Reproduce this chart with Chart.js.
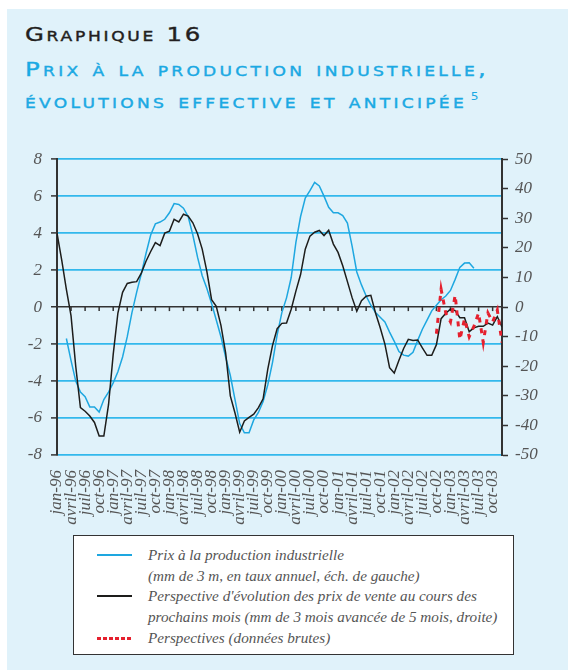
<!DOCTYPE html>
<html lang="fr">
<head>
<meta charset="utf-8">
<script src="https://cdn.jsdelivr.net/npm/chart.js@4.4.1/dist/chart.umd.min.js"></script>
<style>
  html, body { margin: 0; padding: 0; background: #fff; }
  body { width: 568px; height: 670px; position: relative; overflow: hidden; }
  .panel { position: absolute; left: 7px; top: 9px; right: 0; bottom: 0; background: #e0f2fa; }
  .ttl { position: absolute; left: 25px; white-space: nowrap; font-family: 'DejaVu Sans', sans-serif;
         font-variant: small-caps; font-size: 20px; line-height: 20px; -webkit-text-stroke: 0.4px currentColor;
         transform-origin: 0 50%; }
  .ttl.main { top: 24px; color: #231f20; }
  .ttl.sub { color: #1ba9e3; }
  .ttl sup { font-size: 10px; vertical-align: 8px; font-variant: normal; margin-left: 3px; -webkit-text-stroke: 0; }
  #wrap { position: absolute; left: 0; top: 140px; width: 568px; height: 395px; }
  .legend { position: absolute; left: 73px; top: 535px; width: 439px; height: 118px; background: #fff;
            border: 1.5px solid #333; font-family: 'Liberation Serif', serif; font-style: italic;
            font-size: 15.2px; color: #555; }
  .legend .row { position: absolute; left: 74px; white-space: nowrap; line-height: 20px; }
  .legend .swatch { position: absolute; left: 23px; width: 35px; }
</style>
</head>
<body>
<div class="panel"></div>
<div class="ttl main" data-w="178">Graphique 16</div>
<div class="ttl sub" style="top:59px" data-w="464">Prix à la production industrielle,</div>
<div class="ttl sub" style="top:87px" data-w="442"><span>évolutions effective et anticipée</span><sup>5</sup></div>

<div id="wrap"><canvas id="chart" width="568" height="395"></canvas></div>

<div class="legend" id="legend"></div>

<script>
// tick labels of the bottom axis (one every quarter)
const quarterLabels = [
  'jan-96', 'avril-96', 'juil-96', 'oct-96',
  'jan-97', 'avril-97', 'juil-97', 'oct-97',
  'jan-98', 'avril-98', 'juil-98', 'oct-98',
  'jan-99', 'avril-99', 'juil-99', 'oct-99',
  'jan-00', 'avril-00', 'juil-00', 'oct-00',
  'jan-01', 'avril-01', 'juil-01', 'oct-01',
  'jan-02', 'avril-02', 'juil-02', 'oct-02',
  'jan-03', 'avril-03', 'juil-03', 'oct-03'
];

// monthly values, jan-96 .. dec-03
// prix à la production industrielle (échelle de gauche)
const prixProduction = [
  null, null, -1.7, -2.9, -4.0, -4.6, -4.85, -5.4, -5.4, -5.68, -5.0, -4.6,
  -4.1, -3.5, -2.7, -1.6, -0.3, 0.8, 1.8, 2.9, 3.9, 4.5, 4.6, 4.75,
  5.1, 5.6, 5.55, 5.35, 4.9, 3.9, 2.7, 1.7, 1.0, 0.2, -0.7, -1.6,
  -2.7, -3.7, -5.0, -6.3, -6.8, -6.8, -6.1, -5.7, -5.1, -4.2, -3.0, -1.5,
  -0.3, 0.5, 1.6, 3.5, 4.9, 5.9, 6.3, 6.75, 6.55, 6.0, 5.4, 5.1,
  5.1, 4.95, 4.55, 3.3, 1.9, 1.2, 0.6, 0.1, -0.3, -0.55, -0.8, -1.35,
  -1.85, -2.4, -2.6, -2.65, -2.45, -1.8, -1.2, -0.7, -0.2, 0.1, 0.4, 0.6,
  0.9, 1.5, 2.15, 2.38, 2.4, 2.1, null, null, null, null, null, null
];

// perspective d'évolution des prix de vente, mm 3 mois avancée (droite)
const perspectiveMm = [
  25, 16, 6, -3, -20, -34, -35.2, -36.8, -39, -43.6, -43.6, -33,
  -16, -2, 5, 8, 8.4, 8.6, 11.5, 15.5, 18.8, 21.8, 20.8, 25,
  25.7, 29.7, 28.8, 31.4, 30.8, 28.5, 24.8, 19.6, 12, 2.5, 0.3, -6.2,
  -15.5, -30, -35.8, -42.3, -38.5, -37.3, -36.2, -34, -31, -21, -13, -7.3,
  -5.5, -5.4, -0.7, 5.4, 11, 19.6, 24, 25.3, 25.9, 24.2, 26, 21.3,
  18.5, 14, 8.6, 3.2, -1.4, 2.2, 3.7, 4.0, -2, -7, -12.5, -20.5,
  -22.3, -18, -14, -10.9, -11.3, -11.1, -13.8, -16.3, -16.3, -12.7, -3.9, -2.1,
  -0.7, -1.2, -3.6, -3.6, -8.3, -7, -6.5, -6.5, -5.4, -6.1, -3.2, -6.7
];

// perspectives, données brutes (droite), from oct-02
const perspectiveBrute = [
  null, null, null, null, null, null, null, null, null, null, null, null,
  null, null, null, null, null, null, null, null, null, null, null, null,
  null, null, null, null, null, null, null, null, null, null, null, null,
  null, null, null, null, null, null, null, null, null, null, null, null,
  null, null, null, null, null, null, null, null, null, null, null, null,
  null, null, null, null, null, null, null, null, null, null, null, null,
  null, null, null, null, null, null, null, null, null, -9, 6, -2,
  -5, 4, -11, -4, -10, -6.5, -2, -12, -2, -5, -1, -12
];

const legendItems = [
  { lines: ['Prix à la production industrielle', '(mm de 3 m, en taux annuel, éch. de gauche)'], kind: 'blue' },
  { lines: ['Perspective d\'évolution des prix de vente au cours des', 'prochains mois (mm de 3 mois avancée de 5 mois, droite)'], kind: 'black' },
  { lines: ['Perspectives (données brutes)'], kind: 'red' }
];

const COLORS = {
  blue: '#1ea7e0',
  grid: '#33b8ec',
  black: '#1d1d1b',
  red: '#e5202e',
  axis: '#333333',
  text: '#555555'
};

// the title face is an extended one: widen DejaVu and fit each line to its width
const TITLE_STRETCH = 1.22;
document.querySelectorAll('.ttl').forEach(el => {
  const target = Number(el.dataset.w) / TITLE_STRETCH;
  const span = el.querySelector('span') || el;
  const n = span.textContent.length;
  const w = span.getBoundingClientRect().width;
  span.style.letterSpacing = ((target - w) / n) + 'px';
  el.style.transform = `scaleX(${TITLE_STRETCH})`;
});

// legend built from the items above
const legend = document.getElementById('legend');
let row = 0;
legendItems.forEach(item => {
  const sw = document.createElement('div');
  sw.className = 'swatch';
  sw.style.top = (9 + row * 20.7 + 9) + 'px';
  if (item.kind === 'red') {
    sw.style.height = '3px';
    sw.style.background = `repeating-linear-gradient(90deg, ${COLORS.red} 0 3.5px, transparent 3.5px 6px)`;
  } else {
    sw.style.height = '1.5px';
    sw.style.background = COLORS[item.kind];
  }
  legend.appendChild(sw);
  item.lines.forEach(line => {
    const r = document.createElement('div');
    r.className = 'row';
    r.style.top = (9 + row * 20.7) + 'px';
    r.textContent = line;
    legend.appendChild(r);
    row++;
  });
});

const toPoints = arr => arr.map((v, i) => ({ x: i, y: v }));

// small marks on the zero line, one per quarter
const zeroLineTicks = {
  id: 'zeroLineTicks',
  beforeDatasetsDraw(chart) {
    const { ctx, scales: { x, y } } = chart;
    const y0 = y.getPixelForValue(0);
    ctx.save();
    ctx.strokeStyle = COLORS.axis;
    ctx.lineWidth = 1.5;
    x.ticks.forEach(t => {
      const px = x.getPixelForValue(t.value);
      ctx.beginPath();
      ctx.moveTo(px, y0);
      ctx.lineTo(px, y0 + 4);
      ctx.stroke();
    });
    ctx.restore();
  }
};

const tickFont = { family: 'Liberation Serif', style: 'italic', size: 17 };

new Chart(document.getElementById('chart'), {
  type: 'line',
  data: {
    datasets: [{
      label: 'Perspectives (données brutes)',
      data: toPoints(perspectiveBrute),
      yAxisID: 'y1',
      borderColor: COLORS.red,
      borderWidth: 3,
      borderDash: [5, 6],
      order: 0
    }, {
      label: 'Perspective d\'évolution des prix de vente',
      data: toPoints(perspectiveMm),
      yAxisID: 'y1',
      borderColor: COLORS.black,
      borderWidth: 1.5,
      order: 1
    }, {
      label: 'Prix à la production industrielle',
      data: toPoints(prixProduction),
      yAxisID: 'y',
      borderColor: COLORS.blue,
      borderWidth: 1.5,
      order: 2
    }]
  },
  options: {
    responsive: false,
    animation: false,
    layout: { padding: { top: 11, left: 0, right: 0, bottom: 0 } },
    elements: { point: { radius: 0 }, line: { tension: 0 } },
    plugins: { legend: { display: false }, tooltip: { enabled: false } },
    scales: {
      x: {
        type: 'linear',
        min: 0,
        max: 95,
        afterBuildTicks: s => { s.ticks = quarterLabels.map((_, k) => ({ value: k * 3 })); },
        afterFit: s => { s.height = 80; },
        grid: { display: false },
        border: { display: false },
        ticks: {
          autoSkip: false,
          minRotation: 90,
          maxRotation: 90,
          padding: 7,
          color: COLORS.text,
          font: { family: 'Liberation Serif', style: 'italic', size: 17 },
          callback: v => quarterLabels[v / 3]
        }
      },
      y: {
        position: 'left',
        min: -8,
        max: 8,
        afterFit: s => { s.width = 57; },
        ticks: { stepSize: 2, padding: 9, color: COLORS.text, font: tickFont },
        grid: {
          color: c => c.tick.value === 0 ? COLORS.axis : COLORS.grid,
          lineWidth: c => c.tick.value === 0 ? 1.5 : 1.8,
          tickColor: COLORS.axis,
          tickLength: 6,
          tickWidth: 1.5
        },
        border: { display: true, color: COLORS.axis, width: 2 }
      },
      y1: {
        position: 'right',
        min: -50,
        max: 50,
        afterFit: s => { s.width = 66; },
        ticks: { stepSize: 10, padding: 7, color: COLORS.text, font: tickFont },
        grid: { drawOnChartArea: false, tickColor: COLORS.axis, tickLength: 6, tickWidth: 1.5 },
        border: { display: true, color: COLORS.axis, width: 2 }
      }
    }
  },
  plugins: [zeroLineTicks]
});
</script>
</body>
</html>
